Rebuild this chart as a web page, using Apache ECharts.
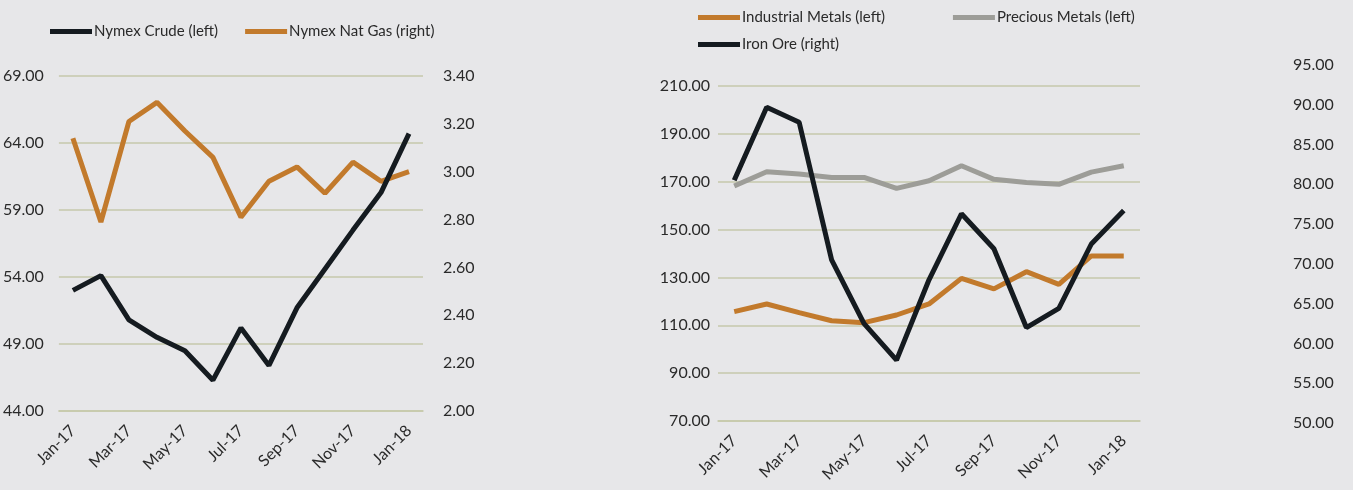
<!DOCTYPE html>
<html>
<head>
<meta charset="utf-8">
<script src="https://cdn.jsdelivr.net/npm/echarts@6/dist/echarts.min.js"></script>
<style>
  html,body{margin:0;padding:0;background:#e7e7e9;}
  #chart{width:1353px;height:490px;}
</style>
</head>
<body>
<div id="chart"></div>
<script>
  var months = ['Jan-17','Feb-17','Mar-17','Apr-17','May-17','Jun-17','Jul-17','Aug-17','Sep-17','Oct-17','Nov-17','Dec-17','Jan-18'];

  // left chart
  var crude = [53.0, 54.1, 50.8, 49.5, 48.5, 46.3, 50.2, 47.4, 51.7, 54.6, 57.5, 60.3, 64.7];
  var natGas = [3.14, 2.79, 3.21, 3.29, 3.17, 3.06, 2.81, 2.96, 3.02, 2.91, 3.04, 2.96, 3.00];

  // right chart
  var industrial = [115.7, 118.9, 115.3, 111.9, 111.1, 114.3, 118.9, 129.6, 125.2, 132.4, 127.1, 139.0, 139.0];
  var precious = [168.2, 174.2, 173.2, 171.8, 171.8, 167.2, 170.4, 176.7, 171.0, 169.7, 168.9, 174.0, 176.7];
  var ironOre = [80.5, 89.7, 87.8, 70.5, 62.5, 57.9, 68.0, 76.3, 71.9, 62.0, 64.4, 72.5, 76.7];

  var font = 'Lato';
  var txt = '#2a2a2a';
  var gridCol = '#c6c9ab';
  var orange = '#c27a2c';
  var black = '#151b20';
  var grey = '#9d9d98';

  var chart = echarts.init(document.getElementById('chart'));

  function xAx(gridIndex, show){
    return {
      type:'category',
      gridIndex:gridIndex,
      show:show,
      data:months,
      boundaryGap:true,
      axisLine:{lineStyle:{color:gridCol,width:1.5}},
      axisTick:{interval:1,length:4,lineStyle:{color:gridCol}},
      axisLabel:{interval:1,rotate:45,color:txt,fontFamily:font,fontSize:16,margin:17}
    };
  }
  function yAx(gridIndex, pos, min, max, step, split, margin){
    return {
      type:'value',
      gridIndex:gridIndex,
      position:pos,
      min:min, max:max, interval:step,
      axisLine:{show:false},
      axisTick:{show:false},
      splitLine:{show:split,lineStyle:{color:gridCol,width:1.5}},
      axisLabel:{color:txt,fontFamily:font,fontSize:16,margin:margin,
        formatter:function(v){return v.toFixed(2);}}
    };
  }

  var legendText = {color:txt,fontFamily:font,fontSize:15,padding:[0,0,0,-3]};

  var option = {
    backgroundColor:'#e7e7e9',
    animation:false,
    legend:[
      {left:45,top:19,itemWidth:42,itemHeight:5,itemGap:27,icon:'rect',
        textStyle:legendText,
        data:['Nymex Crude (left)','Nymex Nat Gas (right)']},
      {left:693,top:5,itemWidth:42,itemHeight:5,itemGap:68,icon:'rect',
        textStyle:legendText,
        data:['Industrial Metals (left)','Precious Metals (left)']},
      {left:693,top:32,itemWidth:42,itemHeight:5,icon:'rect',
        textStyle:legendText,
        data:['Iron Ore (right)']}
    ],
    grid:[
      {left:57,width:366,top:76,height:335},
      {left:718,width:422,top:86,height:335},
      {left:718,width:422,top:65,height:358}
    ],
    xAxis:[xAx(0,true),xAx(1,true),xAx(2,false)],
    yAxis:[
      yAx(0,'left',44,69,5,true,15),
      yAx(0,'right',2,3.4,0.2,false,20),
      yAx(1,'left',70,210,20,true,8),
      yAx(2,'right',50,95,5,false,153)
    ],
    series:[
      {name:'Nymex Nat Gas (right)',type:'line',xAxisIndex:0,yAxisIndex:1,data:natGas,
        showSymbol:false,color:orange,lineStyle:{width:5,color:orange},z:2},
      {name:'Nymex Crude (left)',type:'line',xAxisIndex:0,yAxisIndex:0,data:crude,
        showSymbol:false,color:black,lineStyle:{width:5,color:black},z:3},
      {name:'Industrial Metals (left)',type:'line',xAxisIndex:1,yAxisIndex:2,data:industrial,
        showSymbol:false,color:orange,lineStyle:{width:5,color:orange},z:2},
      {name:'Precious Metals (left)',type:'line',xAxisIndex:1,yAxisIndex:2,data:precious,
        showSymbol:false,color:grey,lineStyle:{width:5,color:grey},z:2},
      {name:'Iron Ore (right)',type:'line',xAxisIndex:2,yAxisIndex:3,data:ironOre,
        showSymbol:false,color:black,lineStyle:{width:5,color:black},z:3}
    ]
  };
  chart.setOption(option);
</script>
</body>
</html>
